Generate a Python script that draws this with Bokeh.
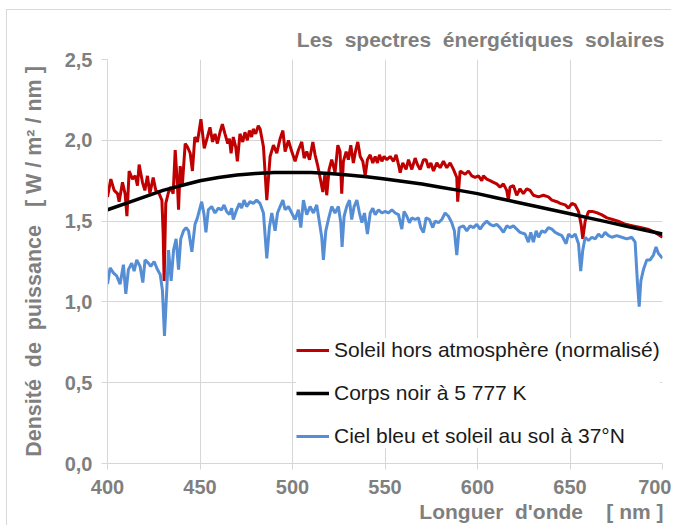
from bokeh.plotting import figure
from bokeh.models import (Range1d, FixedTicker, CustomJSTickFormatter, Legend, LegendItem, Title)
from bokeh.embed import file_html
from bokeh.resources import INLINE

# ---- data ----
red_nm = [400, 401.8, 403.6, 405.4, 406.3, 408.1, 409.5, 410.5, 411.7, 413.5, 415.0, 416.2, 417.1,
          418.9, 420.2, 421.6, 422.9, 424.7, 426.1, 427.9, 429.4, 430.1, 430.6, 431.5, 433.0, 434.2,
          435.5, 436.6, 437.8, 438.4, 439.3, 440.5, 442.0, 443.2, 444.7, 445.9, 447.2, 448.6, 450.5,
          452.3, 454.0, 455.4, 456.8, 458.1, 459.4, 460.8, 462.1, 463.5, 465.0, 465.9, 466.8, 468.0,
          469.3, 470.2, 471.6, 473.1, 474.3, 475.6, 476.7, 477.9, 478.8, 480.1, 481.5, 482.5, 484.3,
          486.1, 487.9, 489.7, 491.5, 493.3, 494.8, 496.0, 497.8, 499.6, 501.4, 503.2, 505.0, 506.3,
          507.7, 509.2, 511.0, 512.2, 513.5, 514.9, 516.4, 517.6, 518.5, 519.8, 521.2, 523.0, 524.5,
          525.7, 526.6, 527.5, 529.0, 530.2, 531.5, 532.9, 534.2, 535.3, 536.6, 538.0, 539.3, 540.5,
          542.0, 543.4, 544.7, 545.9, 547.0, 548.3, 549.5, 551.0, 552.8, 554.6, 556.0, 557.3, 558.2,
          559.6, 561.4, 562.7, 564.5, 566.3, 567.5, 569.0, 570.8, 572.2, 573.5, 574.8, 576.2, 578.0,
          579.8, 581.6, 583.4, 585.2, 587.0, 588.8, 589.3, 590.6, 593.3, 595.1, 596.9, 598.7, 600.5,
          602.3, 603.2, 605.0, 606.8, 608.6, 610.4, 612.2, 614.0, 615.8, 616.7, 617.6, 619.4, 621.2,
          623.0, 624.8, 626.6, 628.4, 630.2, 633.0, 635.6, 638.3, 640.2, 642.9, 644.7, 647.4, 649.2,
          651.0, 652.8, 654.6, 656.0, 656.9, 658.2, 660.0, 662.0, 665.0, 667.0, 670.0, 673.0, 676.0,
          680.0, 684.0, 688.0, 692.0, 696.0, 700.0]
red_val = [1.65, 1.76, 1.69, 1.67, 1.62, 1.74, 1.67, 1.53, 1.81, 1.76, 1.78, 1.72, 1.85,
           1.74, 1.69, 1.78, 1.67, 1.77, 1.69, 1.67, 1.63, 1.42, 1.13, 1.61, 1.68, 1.71,
           1.67, 1.94, 1.72, 1.57, 1.84, 1.73, 1.98, 1.96, 1.92, 1.81, 2.02, 1.99, 2.13,
           1.95, 2.02, 2.08, 1.99, 2.04, 1.98, 2.05, 2.10, 2.04, 1.98, 2.01, 1.92, 2.02,
           1.96, 1.87, 2.04, 1.99, 2.05, 2.00, 2.06, 2.02, 2.07, 2.04, 2.09, 2.07, 1.96,
           1.63, 1.90, 1.97, 1.92, 2.01, 2.06, 1.93, 2.00, 1.93, 1.87, 1.94, 1.99, 1.89,
           1.93, 1.88, 1.99, 1.91, 1.85, 1.77, 1.68, 1.80, 1.66, 1.82, 1.88, 1.80, 1.97,
           1.93, 1.67, 1.87, 1.93, 1.88, 1.97, 1.86, 1.94, 1.99, 1.90, 1.87, 1.78, 1.88,
           1.91, 1.86, 1.90, 1.86, 1.91, 1.87, 1.90, 1.88, 1.90, 1.87, 1.91, 1.85, 1.80,
           1.86, 1.82, 1.88, 1.82, 1.89, 1.85, 1.82, 1.88, 1.88, 1.83, 1.86, 1.81, 1.86,
           1.83, 1.87, 1.83, 1.86, 1.82, 1.77, 1.62, 1.81, 1.79, 1.81, 1.78, 1.77, 1.78,
           1.75, 1.78, 1.76, 1.75, 1.74, 1.73, 1.71, 1.73, 1.69, 1.63, 1.71, 1.72, 1.66,
           1.70, 1.67, 1.70, 1.69, 1.66, 1.65, 1.66, 1.65, 1.63, 1.62, 1.61, 1.60, 1.58,
           1.61, 1.60, 1.56, 1.48, 1.39, 1.50, 1.56, 1.56, 1.55, 1.54, 1.52, 1.51, 1.50,
           1.48, 1.47, 1.46, 1.45, 1.43, 1.40]

black_nm = [400, 410, 420, 430, 440, 450, 460, 470, 480, 490, 500, 510, 520, 530, 540, 550,
            560, 570, 580, 590, 600, 610, 620, 630, 640, 650, 660, 670, 680, 690, 700]
black_val = [1.57, 1.61, 1.65, 1.69, 1.72, 1.75, 1.77, 1.785, 1.795, 1.80, 1.80, 1.80, 1.795,
             1.785, 1.775, 1.76, 1.745, 1.73, 1.71, 1.69, 1.67, 1.645, 1.62, 1.595, 1.57,
             1.545, 1.52, 1.495, 1.47, 1.445, 1.42]

blue_nm = [400, 401.4, 403.2, 405.0, 406.8, 408.6, 409.9, 411.3, 413.1, 414.4, 415.8, 417.6, 419.1,
           420.3, 422.1, 423.4, 425.2, 427.0, 428.5, 429.7, 430.8, 432.1, 433.0, 434.4, 435.7, 437.1,
           438.4, 439.6, 441.1, 442.5, 443.8, 445.6, 447.3, 448.6, 450.9, 452.2, 453.2, 454.5, 456.3,
           458.1, 459.9, 461.7, 463.0, 464.4, 465.9, 467.1, 468.0, 469.8, 471.3, 472.5, 473.8, 475.2,
           477.0, 478.8, 480.6, 482.4, 484.3, 486.1, 487.5, 488.8, 490.6, 491.9, 493.3, 494.8, 496.0,
           497.8, 499.6, 501.4, 503.2, 504.5, 505.9, 507.7, 509.5, 511.3, 513.1, 514.6, 515.8, 516.7,
           518.0, 519.4, 521.2, 523.0, 524.8, 526.1, 526.8, 527.9, 529.3, 530.8, 532.0, 533.3, 534.8,
           536.2, 537.5, 538.9, 540.5, 542.0, 543.4, 544.7, 546.5, 548.3, 550.1, 551.9, 553.7, 555.5,
           557.3, 559.1, 560.3, 561.8, 563.2, 564.5, 566.3, 568.1, 569.3, 570.8, 572.2, 574.0, 575.8,
           577.1, 578.9, 580.7, 582.5, 584.3, 586.1, 587.5, 588.8, 590.1, 592.4, 594.2, 596.0, 597.8,
           599.6, 601.4, 603.2, 605.0, 606.8, 608.6, 610.4, 612.2, 614.0, 615.8, 617.6, 619.4, 621.2,
           623.0, 625.7, 627.5, 628.8, 630.2, 631.7, 633.0, 634.7, 636.5, 638.3, 640.2, 642.0, 643.8,
           645.6, 647.9, 649.2, 651.0, 652.8, 654.6, 655.8, 656.9, 658.2, 660.0, 661.8, 663.6, 665.4,
           667.2, 669.0, 670.8, 672.6, 675.3, 678.0, 680.7, 683.4, 685.2, 686.5, 687.4, 688.3, 689.7,
           691.5, 693.3, 695.1, 696.5, 697.8, 700.0]
blue_val = [1.11, 1.21, 1.18, 1.16, 1.11, 1.23, 1.05, 1.20, 1.24, 1.19, 1.26, 1.22, 1.12,
            1.26, 1.24, 1.22, 1.25, 1.20, 1.17, 1.07, 0.79, 1.09, 1.32, 1.13, 1.32, 1.39,
            1.20, 1.39, 1.44, 1.46, 1.44, 1.31, 1.48, 1.52, 1.62, 1.54, 1.43, 1.57, 1.59,
            1.55, 1.58, 1.57, 1.60, 1.56, 1.54, 1.58, 1.51, 1.57, 1.61, 1.58, 1.63, 1.59,
            1.62, 1.61, 1.63, 1.61, 1.55, 1.27, 1.46, 1.55, 1.44, 1.55, 1.59, 1.63, 1.57,
            1.59, 1.55, 1.51, 1.57, 1.46, 1.63, 1.54, 1.59, 1.55, 1.60, 1.49, 1.40, 1.26,
            1.44, 1.51, 1.59, 1.55, 1.59, 1.49, 1.34, 1.53, 1.59, 1.63, 1.51, 1.59, 1.63,
            1.55, 1.49, 1.55, 1.42, 1.55, 1.58, 1.54, 1.57, 1.55, 1.56, 1.55, 1.57, 1.55,
            1.54, 1.45, 1.56, 1.53, 1.49, 1.52, 1.51, 1.52, 1.46, 1.43, 1.52, 1.51, 1.46,
            1.50, 1.49, 1.51, 1.55, 1.53, 1.49, 1.44, 1.29, 1.46, 1.47, 1.44, 1.47, 1.46,
            1.48, 1.45, 1.48, 1.50, 1.48, 1.47, 1.48, 1.46, 1.43, 1.47, 1.46, 1.47, 1.45,
            1.43, 1.42, 1.37, 1.43, 1.37, 1.44, 1.40, 1.44, 1.43, 1.46, 1.45, 1.43, 1.42,
            1.41, 1.36, 1.42, 1.40, 1.42, 1.36, 1.19, 1.32, 1.40, 1.38, 1.40, 1.39, 1.42,
            1.40, 1.43, 1.41, 1.40, 1.41, 1.40, 1.39, 1.40, 1.37, 1.11, 0.97, 1.13, 1.20,
            1.26, 1.26, 1.29, 1.34, 1.30, 1.27]

x_ticks = [400, 450, 500, 550, 600, 650, 700]
y_ticks = [0.0, 0.5, 1.0, 1.5, 2.0, 2.5]

NB = "\u00a0"
title_text = "Les" + NB + " spectres" + NB + " énergétiques" + NB + " solaires"
x_label = "Longuer" + NB + " d'onde" + NB * 3 + " [ nm ]"
y_label = "Densité" + NB + " de" + NB + " puissance" + NB * 2 + " [ W / m² / nm ]"
legend_labels = ["Soleil hors atmosphère (normalisé)", "Corps noir à 5 777 K",
                 "Ciel bleu et soleil au sol à 37°N"]

GRAY = "#7f7f7f"
GRID = "#d6d6d6"
FONT = "Liberation Sans"

p = figure(width=665, height=516, output_backend="svg", toolbar_location=None,
           x_range=Range1d(400, 700), y_range=Range1d(0, 2.5),
           min_border_left=100, min_border_right=10, min_border_top=49, min_border_bottom=63)
p.styles = {"margin-left": "6px", "margin-top": "9px",
            "border-left": "1px solid #d9d9d9", "border-top": "1px solid #d9d9d9"}
p.outline_line_color = None
p.background_fill_color = "white"
p.border_fill_color = "white"

p.title.text = title_text
p.title.align = "right"
p.title.offset = -2
p.title.text_font = FONT
p.title.text_font_size = "21px"
p.title.text_font_style = "bold"
p.title.text_color = GRAY
p.title.standoff = 18

r_red = p.line(red_nm, red_val, line_color="#c00000", line_width=3)
r_black = p.line(black_nm, black_val, line_color="#000000", line_width=3.5)
r_blue = p.line(blue_nm, blue_val, line_color="#558ed5", line_width=3)

for ax in (p.xaxis[0], p.yaxis[0]):
    ax.axis_line_color = GRID
    ax.major_tick_line_color = GRID
    ax.major_tick_out = 6
    ax.major_tick_in = 0
    ax.minor_tick_line_color = None
    ax.major_label_text_font = FONT
    ax.major_label_text_font_size = "20px"
    ax.major_label_text_font_style = "bold"
    ax.major_label_text_color = GRAY
    ax.axis_label_text_font = FONT
    ax.axis_label_text_font_size = "21.5px"
    ax.axis_label_text_font_style = "bold"
    ax.axis_label_text_color = GRAY

p.xaxis.ticker = FixedTicker(ticks=x_ticks)
p.yaxis.ticker = FixedTicker(ticks=y_ticks)
p.yaxis.formatter = CustomJSTickFormatter(code="return tick.toFixed(1).replace('.', ',');")
p.xaxis.major_label_standoff = 10
p.yaxis.major_label_standoff = 9
p.yaxis.axis_label = y_label
p.yaxis.axis_label_standoff = 16

p.xgrid.grid_line_color = GRID
p.ygrid.grid_line_color = GRID
p.xgrid.ticker = FixedTicker(ticks=x_ticks)
p.ygrid.ticker = FixedTicker(ticks=y_ticks)

xt = Title(text=x_label, align="right", offset=-1, text_font=FONT, text_font_size="21px",
           text_font_style="bold", text_color=GRAY, standoff=3)
p.add_layout(xt, "below")

legend = Legend(items=[LegendItem(label=legend_labels[0], renderers=[r_red]),
                       LegendItem(label=legend_labels[1], renderers=[r_black]),
                       LegendItem(label=legend_labels[2], renderers=[r_blue])],
                location=(189, 15), orientation="vertical")
legend.label_text_font = FONT
legend.label_text_font_size = "21px"
legend.label_text_color = "#1a1a1a"
legend.glyph_width = 33
legend.glyph_height = 24
legend.label_height = 24
legend.label_standoff = 5
legend.spacing = 19
legend.padding = 10
legend.margin = 0
legend.border_line_color = None
legend.background_fill_color = "white"
legend.background_fill_alpha = 1.0
p.add_layout(legend, "center")

open("out.html", "w").write(file_html(p, INLINE))
